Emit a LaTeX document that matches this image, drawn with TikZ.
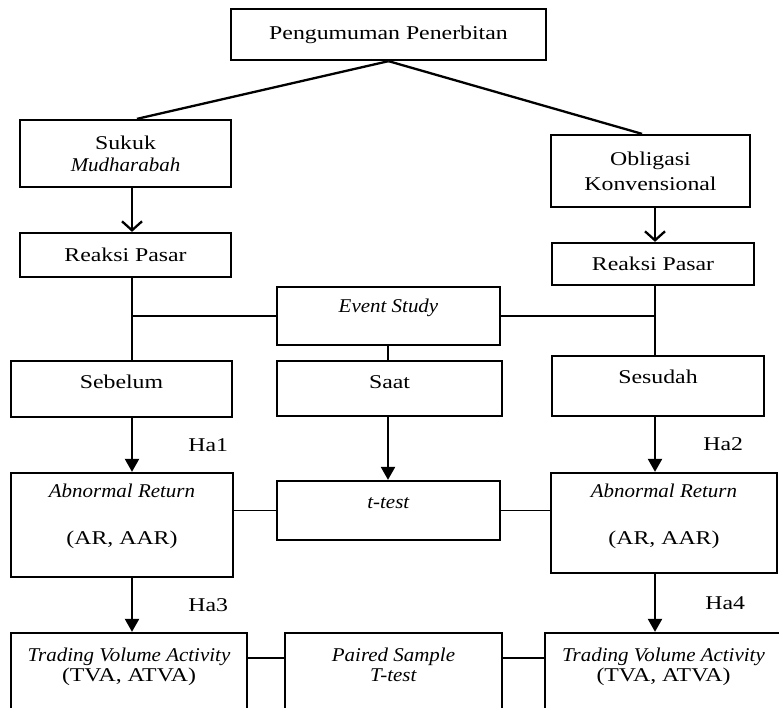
\documentclass[tikz,border=0pt]{standalone}
\usepackage{fontspec}
\setmainfont{Liberation Serif}[FakeStretch=1.22,ItalicFeatures={FakeStretch=1.075}]
\usetikzlibrary{arrows.meta}

\begin{document}
\begin{tikzpicture}[x=1pt,y=-1pt,font=\fontsize{19.5}{22}\selectfont,
  box/.style={draw,line width=2.3pt,align=center,inner sep=0pt},
  link/.style={line width=2.3pt},
  thinlink/.style={line width=1.1pt},
  openarrow/.style={line width=2.3pt,-{Straight Barb[length=9pt,width=20pt,line width=2.3pt]}},
  harrow/.style={line width=2.3pt,-{Triangle[length=13pt,width=14pt]}}]
  \useasboundingbox (0,0) rectangle (779,707);
  \fill[white] (0,0) rectangle (779,707);
  \clip (0,0) rectangle (779,707);
  % columns and rows for the connectors
  \coordinate (colL) at (132,0);
  \coordinate (colM) at (388,0);
  \coordinate (colR) at (655,0);
  \coordinate (rowT) at (0,658);

  \node[box,minimum width=315pt,minimum height=51pt] (pengumuman) at (388.5,34.5) {Pengumuman Penerbitan};
  \node[box,minimum width=211pt,minimum height=67pt] (sukuk) at (125.5,153.5) {Sukuk\\\textit{Mudharabah}};
  \node[box,minimum width=199pt,minimum height=72pt] (obligasi) at (650.5,171) {Obligasi\\[3pt]Konvensional};
  \node[box,minimum width=211pt,minimum height=44pt] (reaksi1) at (125.5,255) {Reaksi Pasar};
  \node[box,minimum width=202pt,minimum height=42pt] (reaksi2) at (653,264) {Reaksi Pasar};
  \node[box,minimum width=223pt,minimum height=58pt,text depth=20pt] (event) at (388.5,316) {\textit{Event Study}};
  \node[box,minimum width=221pt,minimum height=56pt,text depth=14pt] (sebelum) at (121.5,389) {Sebelum};
  \node[box,minimum width=225pt,minimum height=55pt,text depth=13pt] (saat) at (389.5,388.5) {Saat};
  \node[box,minimum width=212pt,minimum height=60pt,text depth=18pt] (sesudah) at (658,386) {Sesudah};
  \node[box,minimum width=222pt,minimum height=104pt,text depth=22pt] (ar1) at (122,525) {\textit{Abnormal Return}\\[25pt](AR, AAR)};
  \node[box,minimum width=223pt,minimum height=59pt,text depth=15pt] (ttest) at (388.5,510.5) {\textit{t-test}};
  \node[box,minimum width=226pt,minimum height=100pt,text depth=18pt] (ar2) at (664,523) {\textit{Abnormal Return}\\[25pt](AR, AAR)};
  \node[box,minimum width=236pt,minimum height=97pt,text depth=33pt] (tva1) at (129,681.5) {\textit{Trading Volume Activity}\\[-2pt](TVA, ATVA)};
  \node[box,minimum width=217pt,minimum height=97pt,text depth=33pt] (paired) at (393.5,681.5) {\textit{Paired Sample}\\[-2pt]\textit{T-test}};
  \node[box,minimum width=237pt,minimum height=97pt,text depth=33pt] (tva2) at (663.5,681.5) {\textit{Trading Volume Activity}\\[-2pt](TVA, ATVA)};

  \draw[link] (pengumuman.south) -- ([xshift=11.5pt]sukuk.north);
  \draw[link] (pengumuman.south) -- ([xshift=-8.5pt]obligasi.north);
  \draw[openarrow] (sukuk.south -| colL) -- (reaksi1.north -| colL);
  \draw[openarrow] (obligasi.south -| colR) -- (reaksi2.north -| colR);
  \draw[link] (reaksi1.south -| colL) -- (sebelum.north -| colL);
  \draw[link] (reaksi2.south -| colR) -- (sesudah.north -| colR);
  \draw[link] (event.west) -- (event.west -| colL);
  \draw[link] (event.east) -- (event.east -| colR);
  \draw[link] (event.south -| colM) -- (saat.north -| colM);
  \draw[harrow] (sebelum.south -| colL) -- node[right=52pt] {Ha1} (ar1.north -| colL);
  \draw[harrow] (saat.south -| colM) -- (ttest.north -| colM);
  \draw[harrow] (sesudah.south -| colR) -- node[right=44pt] {Ha2} (ar2.north -| colR);
  \draw[thinlink] (ar1.east |- ttest.west) -- (ttest.west);
  \draw[thinlink] (ttest.east) -- (ar2.west |- ttest.east);
  \draw[harrow] (ar1.south -| colL) -- node[right=52pt] {Ha3} (tva1.north -| colL);
  \draw[harrow] (ar2.south -| colR) -- node[right=46pt] {Ha4} (tva2.north -| colR);
  \draw[link] (tva1.east |- rowT) -- (paired.west |- rowT);
  \draw[link] (paired.east |- rowT) -- (tva2.west |- rowT);
\end{tikzpicture}
\end{document}
